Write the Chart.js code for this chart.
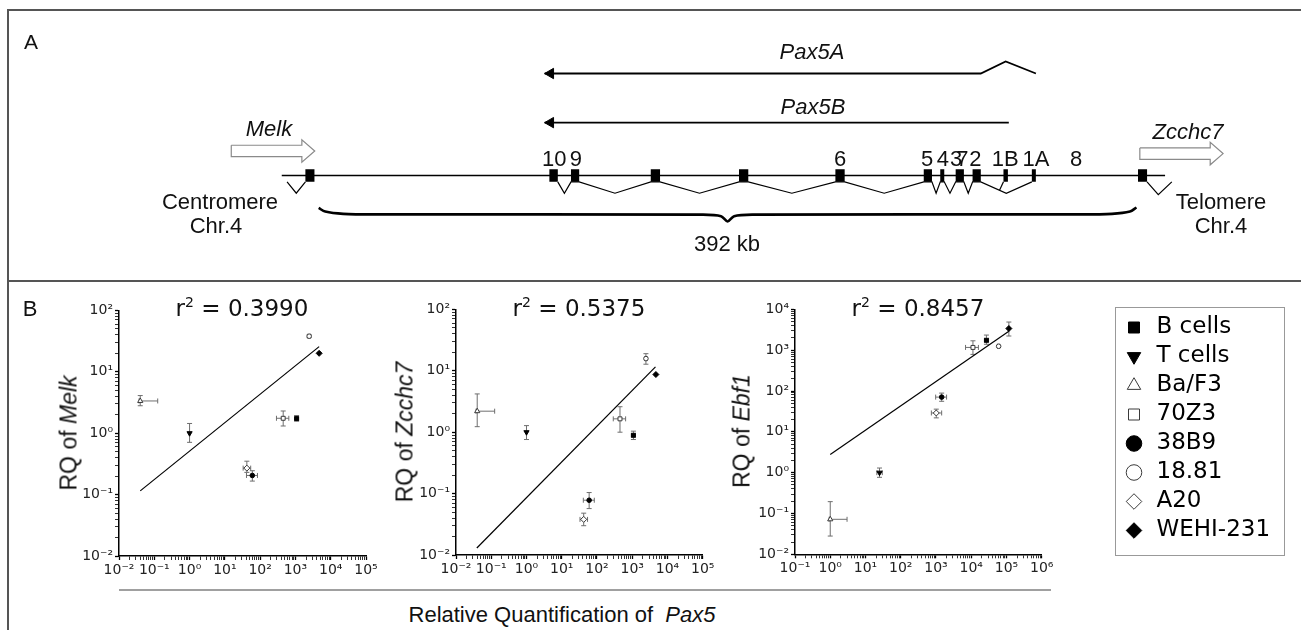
<!DOCTYPE html>
<html>
<head>
<meta charset="utf-8">
<title>Pax5 locus and RQ correlations</title>
<script src="https://cdn.jsdelivr.net/npm/chart.js@4.4.1/dist/chart.umd.min.js"></script>
<style>
  html, body { margin: 0; padding: 0; background: #fff; }
  #fig { position: relative; width: 1301px; height: 630px; overflow: hidden; font-family: "Liberation Sans", Arial, sans-serif; color: #111; }
  #fig canvas { position: absolute; }
  .lbl { position: absolute; white-space: pre; line-height: 1; transform: translate(-50%, -50%); }
  .rot { transform: translate(-50%, -50%) rotate(-90deg); }
  .a22 { font-size: 22px; }
  .verd { font-family: "DejaVu Sans", Verdana, sans-serif; }
  .sup { font-size: 14px; position: relative; top: -9px; }
  .rule { position: absolute; background: #555; }
</style>
</head>
<body>
<div id="fig">
  <div class="rule" style="left:7px;top:9px;width:1300px;height:2px"></div>
  <div class="rule" style="left:7px;top:9px;width:2px;height:630px"></div>
  <div class="rule" style="left:7px;top:280px;width:1300px;height:2px"></div>

  <canvas id="locus" width="1301" height="281" style="left:0;top:0"></canvas>

  <div class="lbl" style="left:31px;top:41px;font-size:21px">A</div>
  <div class="lbl a22" style="left:269px;top:129px"><i>Melk</i></div>
  <div class="lbl a22" style="left:1188px;top:132px"><i>Zcchc7</i></div>
  <div class="lbl a22" style="left:812px;top:52px"><i>Pax5A</i></div>
  <div class="lbl a22" style="left:813px;top:107px"><i>Pax5B</i></div>
  <div class="lbl a22" style="left:220px;top:202px">Centromere</div>
  <div class="lbl a22" style="left:216px;top:226px">Chr.4</div>
  <div class="lbl a22" style="left:1221px;top:202px">Telomere</div>
  <div class="lbl a22" style="left:1221px;top:226px">Chr.4</div>
  <div class="lbl a22" style="left:727px;top:244px">392 kb</div>

  <div class="lbl" style="left:30px;top:309px;font-size:22px">B</div>
  <div class="lbl verd" style="left:242px;top:308px;font-size:23px">r<span class="sup">2</span> = 0.3990</div>
  <div class="lbl verd" style="left:579px;top:308px;font-size:23px">r<span class="sup">2</span> = 0.5375</div>
  <div class="lbl verd" style="left:918px;top:308px;font-size:23px">r<span class="sup">2</span> = 0.8457</div>
  <div class="lbl rot" style="left:69px;top:433px;font-size:23px">RQ of <i>Melk</i></div>
  <div class="lbl rot" style="left:405px;top:432px;font-size:23px">RQ of <i>Zcchc7</i></div>
  <div class="lbl rot" style="left:742px;top:431px;font-size:23px">RQ of <i>Ebf1</i></div>

  <div style="position:absolute;left:119px;top:589px;width:932px;height:2px;background:#a0a0a0"></div>
  <div class="lbl" style="left:562px;top:615px;font-size:22px">Relative Quantification of  <i>Pax5</i></div>

  <div style="position:absolute;left:1115px;top:307px;width:170px;height:249px;border:1.5px solid #999;box-sizing:border-box"></div>
  <canvas id="legend" width="165" height="244" style="left:1117px;top:310px"></canvas>
</div>

<script>
// ---------- Panel A : Pax5 locus, positions in kb (0 = end of Melk) ----------
const exonNames   = ['Melk', '10', '9', '8', '7', '6', '5', '4', '3', '2', '1B', '1A', 'Zcchc7'];
const exonKb      = [-4.2, 112.6, 122.9, 161.4, 203.7, 249.9, 292.0, 298.9, 307.3, 315.4, 329.3, 342.8, 394.9];
const exonLenKb   = [4.3, 4.0, 3.9, 4.4, 4.4, 4.4, 3.9, 1.9, 3.9, 3.9, 2.1, 1.9, 4.3];
const exonLabels  = ['10', '9', '6', '5', '4', '3', '7', '2', '1B', '1A', '8'];
const exonLabelKb = [112.9, 123.3, 249.9, 291.6, 299.2, 305.6, 308.6, 314.8, 329.1, 343.8, 363.1];
const locusSpanKb = [0, 392];
const chromKb     = [-17.7, 405.7];
const transcripts = ['Pax5A', 'Pax5B'];
const transcriptStartKb = [343.8, 330.8];
const transcriptEndKb   = [108.3, 108.3];
const flankGenes  = ['Melk', 'Zcchc7'];
const flankFromKb = [-41.9, 393.6];
const flankToKb   = [-1.9, 433.5];

// ---------- Panel B : relative quantification ----------
const cellLines = ['B cells', 'T cells', 'Ba/F3', '70Z3', '38B9', '18.81', 'A20', 'WEHI-231'];

const pax5RQ   = [1080, 1.0, 0.04, 450, 60, 2450, 42, 4700];
const pax5Low  = [950, 1.0, 0.037, 290, 41, 2250, 33, 4700];
const pax5High = [1230, 1.0, 0.125, 650, 84, 2650, 54, 4700];

const melkRQ   = [1.73, 1.0, 3.35, 1.75, 0.205, 38, 0.27, 20];
const melkLow  = [1.57, 0.71, 2.8, 1.31, 0.166, 36, 0.23, 19.5];
const melkHigh = [1.94, 1.44, 4.1, 2.3, 0.245, 40, 0.35, 20.5];

const zcchc7RQ   = [0.89, 1.0, 2.2, 1.65, 0.078, 15.8, 0.038, 8.7];
const zcchc7Low  = [0.76, 0.76, 1.23, 1.0, 0.057, 12.8, 0.030, 8.5];
const zcchc7High = [1.04, 1.28, 4.2, 2.6, 0.104, 19, 0.048, 8.9];

// the Ebf1 panel is calibrated to Ba/F3, so its Pax5 axis is shifted
const pax5RQEbf   = [27000, 25, 1.0, 11200, 1450, 60000, 1020, 117000];
const pax5LowEbf  = [24000, 21, 0.93, 6900, 980, 56000, 740, 117000];
const pax5HighEbf = [31000, 30, 3.0, 16000, 2000, 64000, 1450, 117000];

const ebf1RQ   = [1750, 1.0, 0.072, 1170, 71, 1250, 29, 3400];
const ebf1Low  = [1400, 0.77, 0.028, 790, 56, 1180, 22, 2230];
const ebf1High = [2350, 1.3, 0.195, 1700, 89, 1320, 36, 4900];

// regression lines (end points)
const melkFitX = [0.04, 4700],   melkFitY = [0.115, 25.7];
const zcchc7FitX = [0.039, 4570], zcchc7FitY = [0.013, 11.6];
const ebf1FitX = [1.0, 117000],  ebf1FitY = [2.8, 2900];

const decadeExp    = [-2, -1, 0, 1, 2, 3, 4, 5, 6];
const decadeLabels = ['10\u207B\u00B2', '10\u207B\u00B9', '10\u2070', '10\u00B9', '10\u00B2', '10\u00B3', '10\u2074', '10\u2075', '10\u2076'];

// marker look per cell line
const markerStyle  = ['rect', 'triangle', 'triangle', 'rect', 'circle', 'circle', 'rectRot', 'rectRot'];
const markerRot    = [0, 180, 0, 0, 0, 0, 0, 0];
const markerFilled = [true, true, false, false, true, false, false, true];
const markerRadius = [2.8, 3, 3, 2.8, 2.3, 2.3, 3, 3];

const fig = document.getElementById('fig');

// ================= Panel A =================
const A_W = 1301, A_H = 281;
const kbMin = -149.4, kbMax = 467.5;
const pxPerKb = A_W / (kbMax - kbMin);
const kb = px => px / pxPerKb;
const Y = { pax5A: 70, junction: 57.3, pax5B: 121.7, melkArrow: 151.5, zcchcArrow: 154.3,
            chrom: 177.3, exonTop: 170.7, exonBot: 184, apex: 196, brace: 218.3 };

function line(data, w, extra) {
    return Object.assign({ data: data, showLine: true, borderColor: '#000', borderWidth: w,
        pointRadius: 0, fill: false, tension: 0, clip: false }, extra || {});
}

const half = i => exonLenKb[i] / 2;
let locusSets = [];

// exons as short thick strokes
exonKb.forEach((k, i) => {
    locusSets.push(line([{x: k, y: Y.exonTop}, {x: k, y: Y.exonBot}], exonLenKb[i] * pxPerKb,
        {order: 0, borderCapStyle: 'butt'}));
});

// chromosome
locusSets.push(line([{x: chromKb[0], y: Y.chrom}, {x: chromKb[1], y: Y.chrom}], 1.5, {order: 3}));

// Pax5 splicing (10 -> 1A, 1B joins the 2-1A intron)
const chain = [1, 2, 3, 4, 5, 6, 7, 8, 9, 11];
let splice = [];
for (let n = 0; n < chain.length - 1; n++) {
    const a = exonKb[chain[n]] + half(chain[n]);
    const b = exonKb[chain[n + 1]] - half(chain[n + 1]);
    splice.push({x: a, y: Y.exonBot}, {x: (a + b) / 2, y: Y.apex}, {x: b, y: Y.exonBot});
}
locusSets.push(line(splice, 1.2, {order: 1}));
{
    const a = exonKb[9] + half(9), b = exonKb[11] - half(11), m = (a + b) / 2;
    const left1B = exonKb[10] - half(10);
    const bx = left1B - kb(4);
    const by = Y.exonBot + (bx - a) / (m - a) * (Y.apex - Y.exonBot);
    locusSets.push(line([{x: left1B, y: Y.exonBot}, {x: bx, y: by}], 1.2, {order: 1}));
}
// flanking gene splice marks
{
    const L = exonKb[0] - half(0), v = 4.4;
    locusSets.push(line([{x: L - 2 * v, y: Y.exonBot}, {x: L - v, y: Y.apex}, {x: L, y: Y.exonBot}], 1.2, {order: 1}));
    const R = exonKb[12] + half(12), w = 5.4;
    locusSets.push(line([{x: R, y: Y.exonBot}, {x: R + w, y: Y.apex + 1.5}, {x: R + 2.2 * w, y: Y.exonBot}], 1.2, {order: 1}));
}

// transcripts
locusSets.push(line([
    {x: transcriptEndKb[0], y: Y.pax5A},
    {x: exonKb[9] + half(9), y: Y.pax5A},
    {x: exonKb[10], y: Y.junction},
    {x: transcriptStartKb[0], y: Y.pax5A}], 1.8, {order: 1}));
locusSets.push(line([{x: transcriptEndKb[1], y: Y.pax5B}, {x: transcriptStartKb[1], y: Y.pax5B}], 1.8, {order: 1}));
const headR = 6;
locusSets.push({
    data: transcriptEndKb.map((k, i) => ({x: k + kb(headR), y: i === 0 ? Y.pax5A : Y.pax5B})),
    showLine: false, pointStyle: 'triangle', pointRotation: -90, pointRadius: headR,
    pointBackgroundColor: '#000', pointBorderColor: '#000', pointBorderWidth: 1, clip: false, order: 0
});

// hollow block arrows for Melk and Zcchc7
function blockArrow(x0, x1, yc) {
    const head = kb(13), bh = 6, hh = 11.8;
    return [{x: x0, y: yc - bh}, {x: x1 - head, y: yc - bh}, {x: x1 - head, y: yc - hh}, {x: x1, y: yc},
            {x: x1 - head, y: yc + hh}, {x: x1 - head, y: yc + bh}, {x: x0, y: yc + bh}, {x: x0, y: yc - bh}];
}
flankGenes.forEach((g, i) => {
    const yc = i === 0 ? Y.melkArrow : Y.zcchcArrow;
    locusSets.push(line(blockArrow(flankFromKb[i], flankToKb[i], yc), 1.2, {borderColor: '#8a8a8a', order: 2}));
});

// curly brace over the 392 kb
function brace(k0, k1) {
    const L = k1 - k0, m = (k0 + k1) / 2, yb = Y.brace;
    return [
        {x: k0, y: yb - 6.8}, {x: k0 + 0.008 * L, y: yb - 3}, {x: k0 + 0.03 * L, y: yb - 0.6}, {x: k0 + 0.07 * L, y: yb},
        {x: m - 0.03 * L, y: yb + 0.2}, {x: m - 0.008 * L, y: yb + 1.8}, {x: m, y: yb + 7.4},
        {x: m + 0.008 * L, y: yb + 1.8}, {x: m + 0.03 * L, y: yb + 0.2},
        {x: k1 - 0.07 * L, y: yb}, {x: k1 - 0.03 * L, y: yb - 0.6}, {x: k1 - 0.008 * L, y: yb - 3}, {x: k1, y: yb - 7.3}
    ];
}
locusSets.push(line(brace(locusSpanKb[0], locusSpanKb[1]), 2.6, {tension: 0.3, order: 1}));

const locusChart = new Chart(document.getElementById('locus'), {
    type: 'scatter',
    data: { datasets: locusSets },
    options: {
        responsive: false, animation: false, events: [],
        layout: { padding: 0 },
        scales: {
            x: { type: 'linear', min: kbMin, max: kbMax, display: false },
            y: { type: 'linear', min: 0, max: A_H, reverse: true, display: false }
        },
        plugins: { legend: { display: false }, tooltip: { enabled: false } }
    }
});

exonLabels.forEach((t, i) => {
    const d = document.createElement('div');
    d.className = 'lbl a22';
    d.textContent = t;
    d.style.left = locusChart.scales.x.getPixelForValue(exonLabelKb[i]) + 'px';
    d.style.top = '159px';
    fig.appendChild(d);
});

// ================= Panel B =================
function logTicks(min, max) {
    let ticks = [];
    for (let e = Math.floor(Math.log10(min)); e <= Math.ceil(Math.log10(max)); e++) {
        for (let m = 1; m <= 9; m++) {
            const v = parseFloat((m * Math.pow(10, e)).toPrecision(12));
            if (v >= min * 0.999999 && v <= max * 1.000001)
                ticks.push({value: v, major: m === 1});
        }
    }
    return ticks;
}

function decadeLabel(v) {
    const e = Math.round(Math.log10(v));
    if (Math.abs(v / Math.pow(10, e) - 1) > 1e-6)
        return '';
    const k = decadeExp.indexOf(e);
    return k < 0 ? '' : decadeLabels[k];
}

const Y_AXIS_W = 40, X_AXIS_H = 28;

function logAxis(min, max, side) {
    return {
        type: 'logarithmic', min: min, max: max, position: side,
        grid: {
            drawOnChartArea: false, drawTicks: true, tickLength: 4, color: '#000',
            tickWidth: c => (c.tick && decadeLabel(c.tick.value) !== '') ? 1.3 : 0.8
        },
        border: { display: true, color: '#000', width: 1.5 },
        ticks: {
            autoSkip: false, maxRotation: 0, minRotation: 0, padding: 2, color: '#222',
            font: { family: 'DejaVu Sans', size: 14 },
            callback: v => decadeLabel(v)
        },
        afterBuildTicks: axis => { axis.ticks = logTicks(min, max); },
        afterFit: axis => {
            if (side === 'left') axis.width = Y_AXIS_W;
            else axis.height = X_AXIS_H;
        }
    };
}

const errorBars = {
    id: 'errorBars',
    beforeDatasetsDraw(chart) {
        const {ctx} = chart;
        const sx = chart.scales.x, sy = chart.scales.y;
        const cap = 2.5;
        ctx.save();
        ctx.strokeStyle = '#6e6e6e';
        ctx.lineWidth = 1;
        chart.data.datasets.forEach(ds => {
            ds.data.forEach(p => {
                if (p.yMin === undefined) return;
                const px = sx.getPixelForValue(p.x), py = sy.getPixelForValue(p.y);
                const y0 = sy.getPixelForValue(p.yMin), y1 = sy.getPixelForValue(p.yMax);
                const x0 = sx.getPixelForValue(p.xMin), x1 = sx.getPixelForValue(p.xMax);
                ctx.beginPath();
                if (Math.abs(y0 - y1) > 2) {
                    ctx.moveTo(px, y0); ctx.lineTo(px, y1);
                    ctx.moveTo(px - cap, y0); ctx.lineTo(px + cap, y0);
                    ctx.moveTo(px - cap, y1); ctx.lineTo(px + cap, y1);
                }
                if (Math.abs(x1 - x0) > 2) {
                    ctx.moveTo(x0, py); ctx.lineTo(x1, py);
                    ctx.moveTo(x0, py - cap); ctx.lineTo(x0, py + cap);
                    ctx.moveTo(x1, py - cap); ctx.lineTo(x1, py + cap);
                }
                ctx.stroke();
            });
        });
        ctx.restore();
    }
};

function cellDatasets(xs, xlo, xhi, ys, ylo, yhi) {
    return cellLines.map((name, i) => ({
        label: name,
        data: xs ? [{x: xs[i], y: ys[i], xMin: xlo[i], xMax: xhi[i], yMin: ylo[i], yMax: yhi[i]}] : [],
        showLine: false,
        pointStyle: markerStyle[i],
        pointRotation: markerRot[i],
        pointRadius: markerRadius[i],
        backgroundColor: markerFilled[i] ? '#000' : '#fff',
        borderColor: markerFilled[i] ? '#000' : '#3a3a3a',
        pointBackgroundColor: markerFilled[i] ? '#000' : '#fff',
        pointBorderColor: markerFilled[i] ? '#000' : '#3a3a3a',
        borderWidth: 1,
        pointBorderWidth: 1,
        clip: false
    }));
}

const plotBoxes = [
    { left: 119, top: 310, right: 366, bottom: 556 },
    { left: 456, top: 309, right: 702.7, bottom: 555 },
    { left: 795, top: 309, right: 1041.7, bottom: 554.3 }
];

const plots = [
    { x: [pax5RQ, pax5Low, pax5High], y: [melkRQ, melkLow, melkHigh], fit: [melkFitX, melkFitY], xr: [0.01, 1e5], yr: [0.01, 100] },
    { x: [pax5RQ, pax5Low, pax5High], y: [zcchc7RQ, zcchc7Low, zcchc7High], fit: [zcchc7FitX, zcchc7FitY], xr: [0.01, 1e5], yr: [0.01, 100] },
    { x: [pax5RQEbf, pax5LowEbf, pax5HighEbf], y: [ebf1RQ, ebf1Low, ebf1High], fit: [ebf1FitX, ebf1FitY], xr: [0.1, 1e6], yr: [0.01, 1e4] }
];

plots.forEach((p, n) => {
    const box = plotBoxes[n];
    const left = Math.round(box.left - Y_AXIS_W - 4), top = Math.round(box.top - 10);
    const width = Math.round(box.right + 16) - left, height = Math.round(box.bottom + X_AXIS_H + 6) - top;
    const c = document.createElement('canvas');
    c.width = width; c.height = height;
    c.style.left = left + 'px'; c.style.top = top + 'px';
    fig.insertBefore(c, fig.firstChild);

    const sets = cellDatasets(p.x[0], p.x[1], p.x[2], p.y[0], p.y[1], p.y[2]);
    sets.push({
        label: 'fit', showLine: true,
        data: p.fit[0].map((x, i) => ({x: x, y: p.fit[1][i]})),
        borderColor: '#000', borderWidth: 1.2, pointRadius: 0, fill: false
    });

    new Chart(c, {
        type: 'scatter',
        data: { datasets: sets },
        options: {
            responsive: false, animation: false, events: [],
            layout: { padding: {
                left: box.left - Y_AXIS_W - left, top: box.top - top,
                right: left + width - box.right, bottom: top + height - box.bottom - X_AXIS_H } },
            scales: { x: logAxis(p.xr[0], p.xr[1], 'bottom'), y: logAxis(p.yr[0], p.yr[1], 'left') },
            plugins: { legend: { display: false }, tooltip: { enabled: false }, title: { display: false } }
        },
        plugins: [errorBars]
    });
});

// legend of cell lines
new Chart(document.getElementById('legend'), {
    type: 'scatter',
    data: { datasets: cellDatasets(null) },
    options: {
        responsive: false, animation: false, events: [],
        layout: { padding: 0 },
        scales: { x: { display: false }, y: { display: false } },
        plugins: {
            tooltip: { enabled: false },
            legend: {
                display: true, position: 'top', align: 'start', maxHeight: 244,
                labels: {
                    usePointStyle: true, boxWidth: 22, boxHeight: 11, padding: 6,
                    color: '#000', font: { family: 'DejaVu Sans', size: 23 }
                }
            }
        }
    }
});
</script>
</body>
</html>
